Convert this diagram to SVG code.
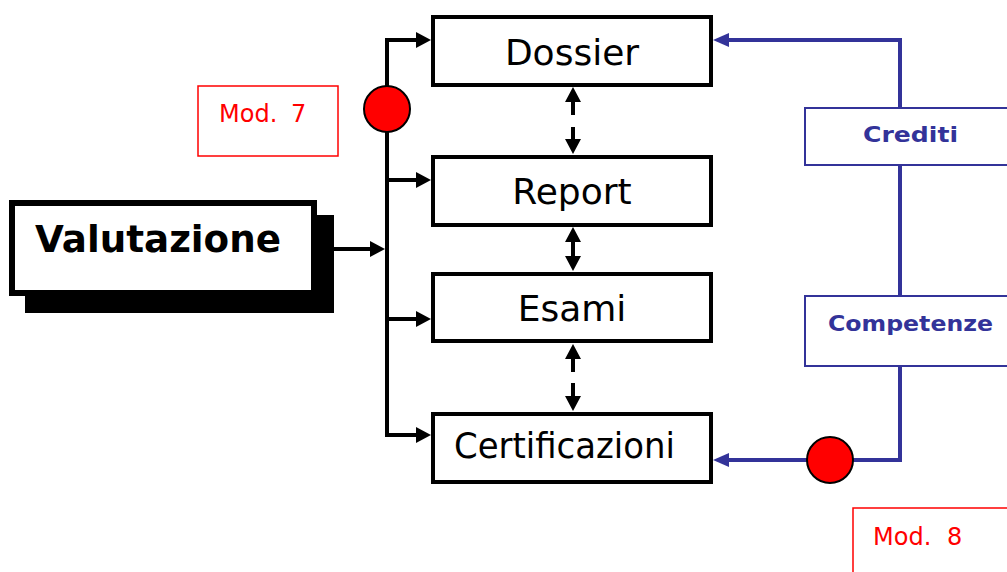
<svg xmlns="http://www.w3.org/2000/svg" width="1007" height="572" viewBox="0 0 1007 572">
<style>
.box{fill:#fff;stroke:#000;stroke-width:4}
.lbl{font-family:"DejaVu Sans",Verdana,sans-serif;font-size:36px;fill:#000;text-anchor:middle}
.blk{fill:none;stroke:#000;stroke-width:4}
.blu{fill:none;stroke:#333399;stroke-width:4}
.bbox{fill:#fff;stroke:#333399;stroke-width:2}
.btxt{font-family:"DejaVu Sans",Verdana,sans-serif;font-weight:bold;font-size:22px;fill:#333399}
.rbox{fill:#fff;stroke:#ff0000;stroke-width:1.5}
.rtxt{font-family:"DejaVu Sans",Verdana,sans-serif;font-size:24px;fill:#ff0000}
.dot{fill:#ff0000;stroke:#000;stroke-width:2}
</style>
<defs>
<marker id="ah" viewBox="0 0 15 16" refX="3" refY="8" markerWidth="15" markerHeight="16" markerUnits="userSpaceOnUse" orient="auto-start-reverse">
<path d="M0,0 L15,8 L0,16 z" fill="#000"/>
</marker>
<marker id="bh" viewBox="0 0 16 14" refX="3" refY="7" markerWidth="16" markerHeight="14" markerUnits="userSpaceOnUse" orient="auto">
<path d="M0,0 L16,7 L0,14 z" fill="#333399"/>
</marker>
</defs>
<g id="connectors">
<line class="blk" x1="334" y1="249" x2="373" y2="249" marker-end="url(#ah)"/>
<line class="blk" x1="387" y1="38" x2="387" y2="437"/>
<path class="blk" d="M387,40 H419" marker-end="url(#ah)"/>
<path class="blk" d="M387,180 H419" marker-end="url(#ah)"/>
<path class="blk" d="M387,319 H419" marker-end="url(#ah)"/>
<path class="blk" d="M385,435 H419" marker-end="url(#ah)"/>
<line class="blk" x1="573" y1="99" x2="573" y2="142" stroke-dasharray="16 12 20" marker-start="url(#ah)" marker-end="url(#ah)"/>
<line class="blk" x1="573" y1="239" x2="573" y2="259" marker-start="url(#ah)" marker-end="url(#ah)"/>
<line class="blk" x1="573" y1="356" x2="573" y2="399" stroke-dasharray="16 11 20" marker-start="url(#ah)" marker-end="url(#ah)"/>
<path class="blu" d="M900,108 V40 H726" marker-end="url(#bh)"/>
<path class="blu" d="M900,165 V296"/>
<path class="blu" d="M900,366 V460 H726" marker-end="url(#bh)"/>
</g>
<g id="valutazione">
<rect x="25" y="215" width="309" height="98" fill="#000"/>
<rect x="12" y="203" width="302" height="90" fill="#fff" stroke="#000" stroke-width="6"/>
<text x="35" y="252" font-family="'DejaVu Sans',Verdana,sans-serif" font-weight="bold" font-size="38" textLength="246" lengthAdjust="spacingAndGlyphs">Valutazione</text>
</g>
<g id="dossier">
<rect class="box" x="433" y="17" width="278" height="68"/>
<text class="lbl" x="572" y="65">Dossier</text>
</g>
<g id="report">
<rect class="box" x="433" y="157" width="278" height="68"/>
<text class="lbl" x="572" y="204">Report</text>
</g>
<g id="esami">
<rect class="box" x="433" y="274" width="278" height="67"/>
<text class="lbl" x="572" y="321">Esami</text>
</g>
<g id="certificazioni">
<rect class="box" x="433" y="414" width="278" height="68"/>
<text class="lbl" x="454" y="458" textLength="221" lengthAdjust="spacingAndGlyphs" style="text-anchor:start">Certificazioni</text>
</g>
<g id="crediti">
<rect class="bbox" x="805" y="108" width="210" height="57"/>
<text class="btxt" x="863" y="142" textLength="95" lengthAdjust="spacingAndGlyphs">Crediti</text>
</g>
<g id="competenze">
<rect class="bbox" x="805" y="296" width="210" height="70"/>
<text class="btxt" x="828" y="331" textLength="165" lengthAdjust="spacingAndGlyphs">Competenze</text>
</g>
<g id="mod7">
<rect class="rbox" x="198" y="86" width="140" height="70"/>
<text class="rtxt" x="219" y="122">Mod.<tspan x="291">7</tspan></text>
</g>
<g id="mod8">
<rect class="rbox" x="853" y="508" width="200" height="100"/>
<text class="rtxt" x="873" y="545">Mod.<tspan x="947">8</tspan></text>
</g>
<g id="dot1"><circle class="dot" cx="387" cy="109" r="23"/></g>
<g id="dot2"><circle class="dot" cx="830" cy="460" r="23"/></g>
</svg>
